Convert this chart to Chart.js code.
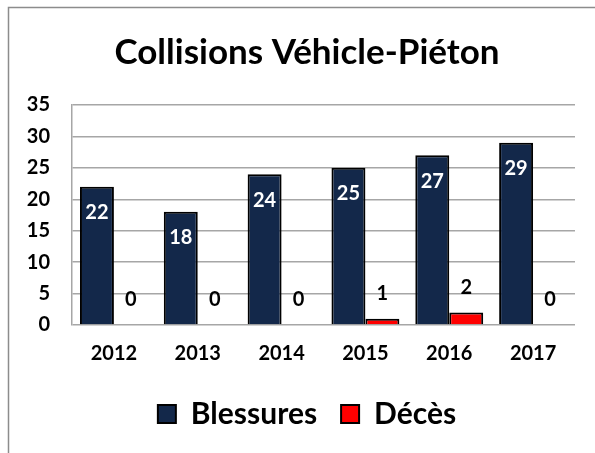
<!DOCTYPE html>
<html>
<head>
<meta charset="utf-8">
<script src="https://cdn.jsdelivr.net/npm/chart.js@4"></script>
<style>
  html, body { margin: 0; padding: 0; background: #fff; }
  #wrap { position: absolute; left: 0; top: 0; width: 595px; height: 453px; }
</style>
</head>
<body>
<div id="wrap"><canvas id="chart" width="595" height="453"></canvas></div>
<script>
// Données
const annees = ['2012', '2013', '2014', '2015', '2016', '2017'];
const blessures = [22, 18, 24, 25, 27, 29];
const deces = [0, 0, 0, 1, 2, 0];
const yTicks = [0, 5, 10, 15, 20, 25, 30, 35];
const titre = 'Collisions Véhicle-Piéton';

const FONT = 'Lato, "Open Sans", sans-serif';

// Cadre gris (bord gauche et haut) + titre
const cadre = {
    id: 'cadre',
    beforeDraw(chart) {
        const ctx = chart.ctx;
        ctx.save();
        ctx.strokeStyle = '#8c8c8c';
        ctx.lineWidth = 1.5;
        ctx.beginPath();
        ctx.moveTo(8.5, 453);
        ctx.lineTo(8.5, 7.5);
        ctx.lineTo(595, 7.5);
        ctx.stroke();
        ctx.fillStyle = '#000';
        ctx.font = 'bold 35px ' + FONT;
        ctx.textAlign = 'center';
        ctx.textBaseline = 'alphabetic';
        ctx.fillText(titre, 307, 64);
        ctx.restore();
    }
};

// Étiquettes de valeurs
const etiquettes = {
    id: 'etiquettes',
    afterDatasetsDraw(chart) {
        const ctx = chart.ctx;
        ctx.save();
        ctx.font = 'bold 20px ' + FONT;
        ctx.textAlign = 'center';
        ctx.textBaseline = 'middle';
        chart.data.datasets.forEach((ds, i) => {
            const meta = chart.getDatasetMeta(i);
            meta.data.forEach((bar, j) => {
                const v = ds.data[j];
                if (i === 0) {
                    ctx.fillStyle = '#ffffff';
                    ctx.fillText(v, bar.x, bar.y + 26);
                } else {
                    ctx.fillStyle = '#000000';
                    ctx.fillText(v, bar.x, bar.y - 25);
                }
            });
        });
        ctx.restore();
    }
};

const ctx = document.getElementById('chart').getContext('2d');
new Chart(ctx, {
    type: 'bar',
    data: {
        labels: annees,
        datasets: [{
            label: 'Blessures',
            data: blessures,
            backgroundColor: '#13284a',
            borderColor: '#000000',
            borderWidth: 2
        }, {
            label: 'Décès',
            data: deces,
            backgroundColor: '#ff0000',
            borderColor: '#000000',
            borderWidth: 2
        }]
    },
    options: {
        responsive: false,
        animation: false,
        layout: { padding: { left: 19, right: 0, top: 105, bottom: 14 } },
        datasets: {
            bar: { categoryPercentage: 0.81, barPercentage: 1.0 }
        },
        plugins: {
            title: { display: false },
            legend: {
                position: 'bottom',
                labels: {
                    color: '#000',
                    font: { family: FONT, size: 30, weight: 'bold' },
                    boxWidth: 18,
                    boxHeight: 18,
                    padding: 24
                }
            },
            tooltip: { enabled: false }
        },
        scales: {
            x: {
                grid: { display: false },
                border: { display: false },
                ticks: {
                    color: '#000',
                    font: { family: FONT, size: 20, weight: 'bold' },
                    padding: 9
                }
            },
            y: {
                min: 0,
                max: 35,
                afterFit(scale) { scale.width = 53; },
                afterBuildTicks(scale) { scale.ticks = yTicks.map(v => ({ value: v })); },
                grid: { color: '#a6a6a6', lineWidth: 1.5, drawTicks: false },
                border: { display: true, color: '#a6a6a6', width: 1.5 },
                ticks: {
                    color: '#000',
                    font: { family: FONT, size: 20, weight: 'bold' },
                    padding: 22
                }
            },
            marge: {
                type: 'linear',
                position: 'right',
                display: true,
                afterFit(scale) { scale.width = 20; },
                grid: { display: false, drawOnChartArea: false },
                border: { display: false },
                ticks: { display: false }
            }
        }
    },
    plugins: [cadre, etiquettes]
});
</script>
</body>
</html>
